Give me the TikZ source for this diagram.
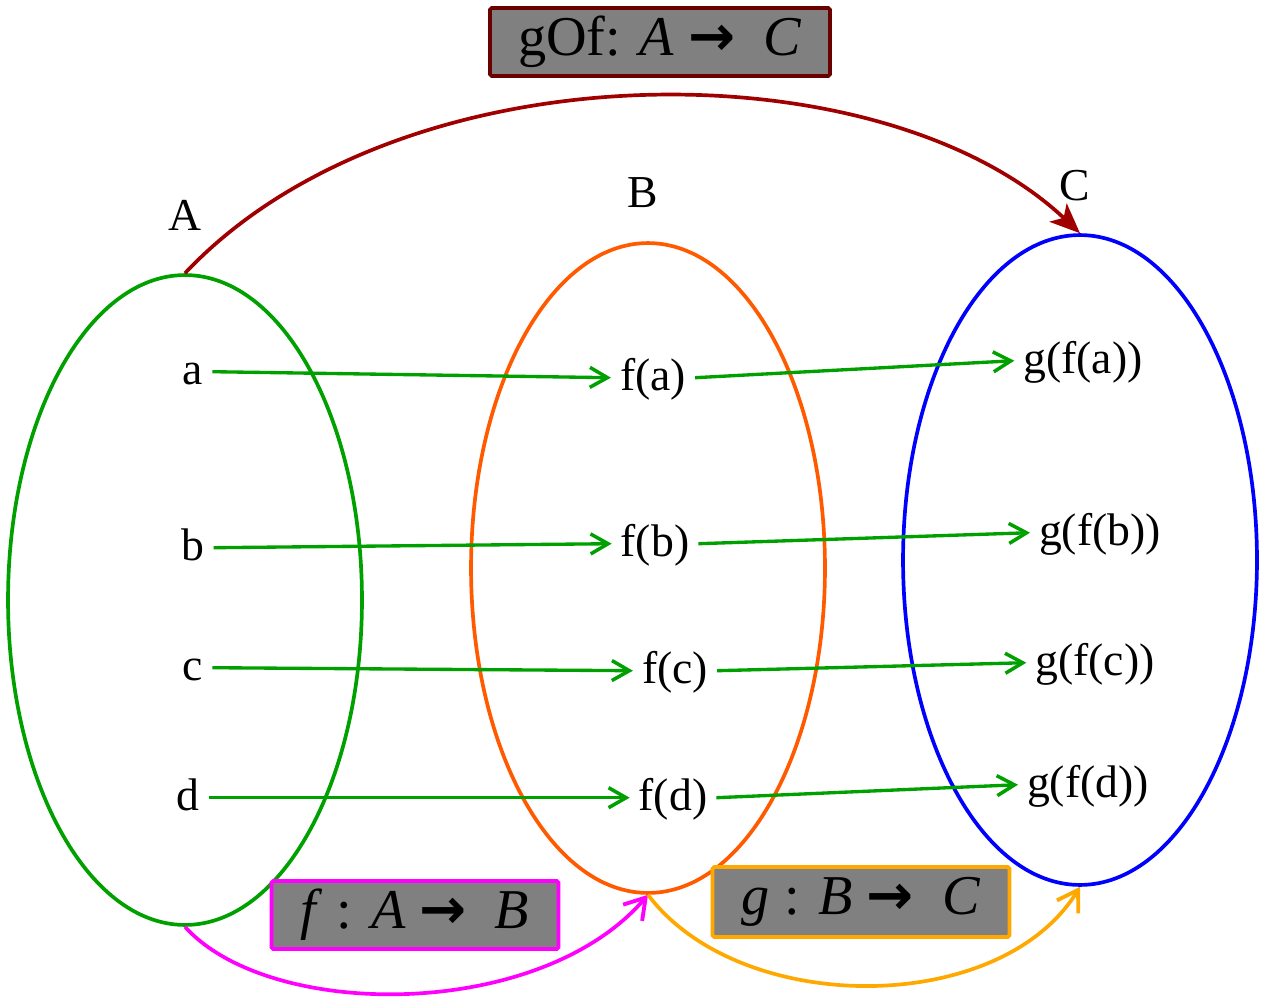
\documentclass[tikz,border=0pt]{standalone}
\usepackage{fontspec}
\setmainfont{Liberation Serif}
\newfontfamily\arrowfont{DejaVu Sans}
\usetikzlibrary{arrows.meta,shapes.geometric}
\definecolor{setgreen}{HTML}{00A000}
\definecolor{setorange}{HTML}{FF5A00}
\definecolor{setblue}{HTML}{0000FF}
\definecolor{compred}{HTML}{A00000}
\definecolor{compframe}{HTML}{6B0000}
\definecolor{fmag}{HTML}{FF00FF}
\definecolor{gorange}{HTML}{FFA800}
\tikzset{
  setov/.style  ={ellipse, draw, line width=2.1pt, minimum width=7.08cm, minimum height=13cm, inner sep=0pt},
  elem/.style   ={anchor=base, inner sep=5pt, text height=20pt, text depth=6pt, font=\fontsize{26}{30}\selectfont},
  setname/.style={anchor=base, font=\fontsize{26}{30}\selectfont},
  mapbox/.style ={rectangle, rounded corners=1pt, fill=black!50, line width=2.1pt, inner sep=0pt,
                  font=\fontsize{32}{36}\selectfont, minimum height=1.36cm},
  arr/.style    ={-{Straight Barb[length=3.5mm, width=4mm, line width=2pt]}, line width=1.9pt, setgreen},
  carr/.style   ={-{Straight Barb[length=4mm, width=5mm, line width=2.2pt]}, line width=2.1pt},
}
\newcommand{\mapto}{{\arrowfont\bfseries →}}

\begin{document}
\begin{tikzpicture}[x=0.02cm, y=-0.02cm]
  \useasboundingbox (0,0) rectangle (1263,1000);
  \node[setov, draw=setgreen] (setA) at (185,600) {};
  \node[setov, draw=setorange] (setB) at (648,568) {};
  \node[setov, draw=setblue] (setC) at (1080,560) {};
  \node[setname] (nA) at (185,230) {A};
  \node[setname] (nB) at (643,208) {B};
  \node[setname] (nC) at (1075,200) {C};
  \node[elem] (a) at (193,384) {a};
  \node[elem] (b) at (193,560) {b};
  \node[elem] (c) at (193,680) {c};
  \node[elem] (d) at (188,810) {d};
  \node[elem] (fa) at (653,390) {f(a)};
  \node[elem] (fb) at (655,556) {f(b)};
  \node[elem] (fc) at (675,683) {f(c)};
  \node[elem] (fd) at (673,810) {f(d)};
  \node[elem] (gfa) at (1083,373) {g(f(a))};
  \node[elem] (gfb) at (1100,545) {g(f(b))};
  \node[elem] (gfc) at (1095,675) {g(f(c))};
  \node[elem] (gfd) at (1088,797) {g(f(d))};
  \draw[arr] (a.east) -- (fa.west);
  \draw[arr] (b.east) -- (fb.west);
  \draw[arr] (c.east) -- (fc.west);
  \draw[arr] (d.east) -- (fd.west);
  \draw[arr] (fa.east) -- (gfa.west);
  \draw[arr] (fb.east) -- (gfb.west);
  \draw[arr] (fc.east) -- (gfc.west);
  \draw[arr] (fd.east) -- (gfd.west);
  \draw[line width=2.1pt, compred, -{Stealth[length=6mm, width=5mm, inset=1.5mm]}] (setA.north) .. controls (400,45) and (880,45) .. (setC.north);
  \draw[carr, fmag] (setA.south) .. controls (270,1021) and (540,1021) .. (setB.south);
  \draw[carr, gorange] (setB.south) .. controls (740,1017) and (1000,1017) .. (setC.south);
  \node[mapbox, draw=compframe, minimum width=6.8cm] (gof) at (660,42) {gOf: \textit{A} \mapto\ \ \textit{C}};
  \node[mapbox, draw=fmag, minimum width=5.74cm] (fbox) at (415,915) {\textit{f} : \textit{A} \mapto\ \ \textit{B}};
  \node[mapbox, draw=gorange, minimum width=5.94cm, minimum height=1.4cm] (gbox) at (861,902) {\textit{g} : \textit{B} \mapto\ \ \textit{C}};
\end{tikzpicture}
\end{document}
